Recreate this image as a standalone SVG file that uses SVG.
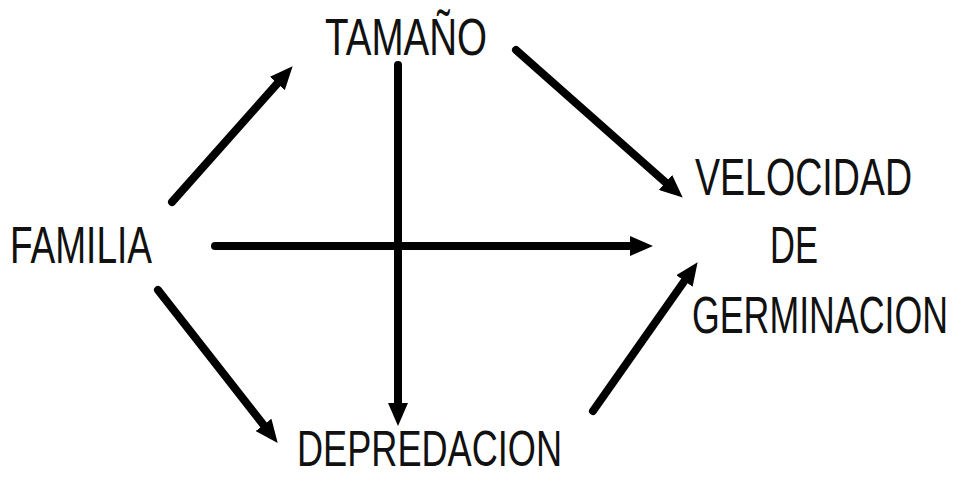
<svg xmlns="http://www.w3.org/2000/svg" width="960" height="477" viewBox="0 0 960 477">
<style>
  .lbl { font-family: "Liberation Sans", Arial, sans-serif; font-size: 36px; fill: #111; }
  .arr { stroke: #000; stroke-width: 8; stroke-linecap: round; fill: none; marker-end: url(#head); }
</style>
<defs>
  <marker id="head" markerUnits="userSpaceOnUse" markerWidth="24" markerHeight="20" refX="4" refY="10" orient="auto" viewBox="0 0 24 20">
    <path d="M0,0 L23,10 L0,20 z" fill="#000"/>
  </marker>
</defs>
<rect width="960" height="477" fill="#fff"/>
<g id="connectors">
  <path class="arr" d="M172,202 L280,80.5"/>
  <path class="arr" d="M516,50 L668.5,185"/>
  <path class="arr" d="M215,246 L634,246"/>
  <path class="arr" d="M398,65 L398,407"/>
  <path class="arr" d="M158,290 L266,428"/>
  <path class="arr" d="M593,411 L686.7,277.7"/>
</g>
<g id="tamano"><text class="lbl" transform="translate(325,55) scale(1,1.42)" textLength="162" lengthAdjust="spacingAndGlyphs">TAMAÑO</text></g>
<g id="familia"><text class="lbl" transform="translate(10,263) scale(1,1.42)" textLength="142" lengthAdjust="spacingAndGlyphs">FAMILIA</text></g>
<g id="velocidad">
  <text class="lbl" transform="translate(695,195) scale(1,1.42)" textLength="217" lengthAdjust="spacingAndGlyphs">VELOCIDAD</text>
  <text class="lbl" transform="translate(770,263) scale(1,1.42)" textLength="48" lengthAdjust="spacingAndGlyphs">DE</text>
  <text class="lbl" transform="translate(692,333) scale(1,1.42)" textLength="256" lengthAdjust="spacingAndGlyphs">GERMINACION</text>
</g>
<g id="depredacion"><text class="lbl" transform="translate(297,466) scale(1,1.4)" textLength="265" lengthAdjust="spacingAndGlyphs">DEPREDACION</text></g>
</svg>
